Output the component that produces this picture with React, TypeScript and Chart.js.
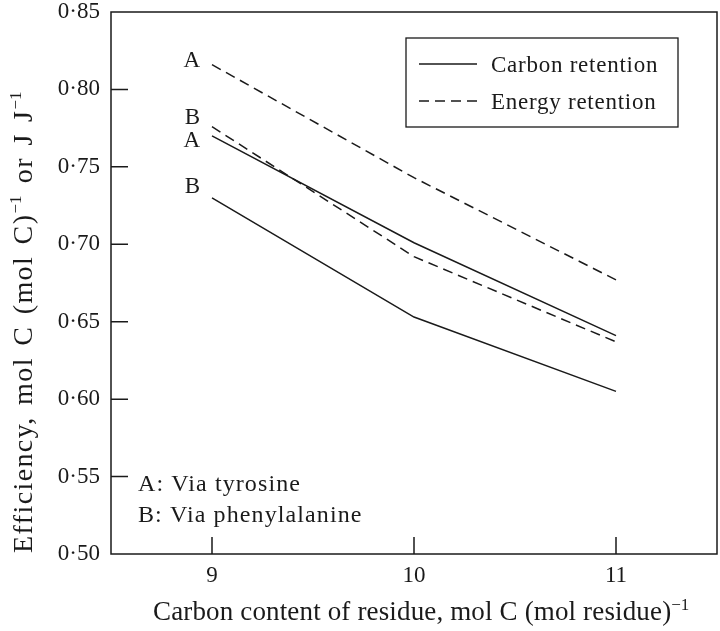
import React, { useEffect, useRef } from 'react';
import { Chart, registerables } from 'chart.js';

Chart.register(...registerables);

// ---- data ----
const xValues = [9, 10, 11];
const energyA = [0.816, 0.743, 0.677];
const energyB = [0.776, 0.692, 0.637];
const carbonA = [0.770, 0.701, 0.641];
const carbonB = [0.730, 0.653, 0.605];
const seriesTags = ['A', 'B', 'A', 'B'];
const xTicks = [9, 10, 11];
const yTicks = [0.5, 0.55, 0.6, 0.65, 0.7, 0.75, 0.8, 0.85];
const legendLabels = ['Carbon retention', 'Energy retention'];
const noteLines = ['A: Via tyrosine', 'B: Via phenylalanine'];
const xTitleParts = ['Carbon content of residue, mol C (mol residue)', '\u22121'];
const yTitleParts = ['Efficiency, mol C (mol C)', '\u22121', ' or J J', '\u22121'];

const FONT = "'Liberation Serif', 'Times New Roman', serif";
const INK = '#1a1a1a';
const FS = 23;
const DASH = [10, 6];

function setSpacing(ctx: CanvasRenderingContext2D, px: number, word = 0) {
  (ctx as any).letterSpacing = `${px}px`;
  (ctx as any).wordSpacing = `${word}px`;
}

function drawRich(
  ctx: CanvasRenderingContext2D,
  parts: string[],
  x: number,
  y: number,
  size: number,
  spacing: number,
  word = 0
) {
  let cx = x;
  parts.forEach((p, i) => {
    const sup = i % 2 === 1;
    const s = sup ? Math.round(size * 0.62) : size;
    ctx.font = `${s}px ${FONT}`;
    setSpacing(ctx, sup ? 0 : spacing, sup ? 0 : word);
    ctx.fillText(p, cx, sup ? y - size * 0.38 : y);
    cx += ctx.measureText(p).width + (sup ? 1 : 0);
  });
  setSpacing(ctx, 0, 0);
}

const decorPlugin = {
  id: 'decor',
  afterDraw(chart: any) {
    const ctx: CanvasRenderingContext2D = chart.ctx;
    const { left, right, top, bottom } = chart.chartArea;
    const xs = chart.scales.x;
    const ys = chart.scales.y;
    ctx.save();
    ctx.strokeStyle = INK;
    ctx.fillStyle = INK;
    ctx.lineWidth = 1.5;
    // frame
    ctx.strokeRect(left, top, right - left, bottom - top);
    // inward ticks
    ctx.beginPath();
    xTicks.forEach((v) => {
      const px = xs.getPixelForValue(v);
      ctx.moveTo(px, bottom);
      ctx.lineTo(px, bottom - 17);
    });
    yTicks.slice(1, -1).forEach((v) => {
      const py = ys.getPixelForValue(v);
      ctx.moveTo(left, py);
      ctx.lineTo(left + 17, py);
    });
    ctx.stroke();

    // series tags at line starts
    const tagOffsets = [2, -3, 11, -5];
    ctx.font = `${FS}px ${FONT}`;
    ctx.textAlign = 'right';
    ctx.textBaseline = 'alphabetic';
    chart.data.datasets.forEach((ds: any, i: number) => {
      const px = xs.getPixelForValue(ds.data[0].x);
      const py = ys.getPixelForValue(ds.data[0].y);
      ctx.fillText(seriesTags[i], px - 12, py + tagOffsets[i]);
    });

    // legend box
    const bx = right - 311;
    const by = top + 26;
    const bw = 272;
    const bh = 89;
    ctx.lineWidth = 1.3;
    ctx.strokeRect(bx, by, bw, bh);
    ctx.textAlign = 'left';
    legendLabels.forEach((lab, i) => {
      const ly = by + 26 + i * 37;
      ctx.save();
      ctx.lineWidth = 1.5;
      ctx.setLineDash(i === 0 ? [] : DASH);
      ctx.beginPath();
      ctx.moveTo(bx + 13, ly);
      ctx.lineTo(bx + 71, ly);
      ctx.stroke();
      ctx.restore();
      ctx.font = `${FS}px ${FONT}`;
      setSpacing(ctx, 0.75);
      ctx.fillText(lab, bx + 85, ly + 8);
      setSpacing(ctx, 0);
    });

    // notes
    ctx.font = `24px ${FONT}`;
    setSpacing(ctx, 1.1);
    noteLines.forEach((t, i) => {
      ctx.fillText(t, left + 27, bottom - 63 + i * 31);
    });
    setSpacing(ctx, 0);

    // x title
    drawRich(ctx, xTitleParts, 153, 620, 27, 0.15);

    // y title
    ctx.save();
    ctx.translate(32, 553);
    ctx.rotate(-Math.PI / 2);
    drawRich(ctx, yTitleParts, 0, 0, 28, 1.4, 3);
    ctx.restore();

    ctx.restore();
  },
};

export default function App() {
  const ref = useRef<HTMLCanvasElement>(null);
  useEffect(() => {
    document.body.style.margin = '0';
    const mk = (vals: number[]) => vals.map((y, i) => ({ x: xValues[i], y }));
    const common = { borderColor: INK, borderWidth: 1.5, pointRadius: 0, fill: false, tension: 0 };
    const chart = new Chart(ref.current!, {
      type: 'line',
      data: {
        datasets: [
          { label: 'Energy retention A', data: mk(energyA), borderDash: DASH, ...common },
          { label: 'Energy retention B', data: mk(energyB), borderDash: DASH, ...common },
          { label: 'Carbon retention A', data: mk(carbonA), ...common },
          { label: 'Carbon retention B', data: mk(carbonB), ...common },
        ],
      },
      options: {
        responsive: false,
        animation: false,
        layout: { padding: { top: 12, right: 3, left: 0, bottom: 0 } },
        plugins: { legend: { display: false }, tooltip: { enabled: false }, title: { display: false } },
        scales: {
          x: {
            type: 'linear',
            min: 8.5,
            max: 11.5,
            grid: { display: false, drawTicks: false },
            border: { display: false },
            afterBuildTicks: (axis: any) => {
              axis.ticks = xTicks.map((v) => ({ value: v }));
            },
            afterFit: (axis: any) => {
              axis.height = 77;
              axis.paddingLeft = 0;
              axis.paddingRight = 0;
            },
            ticks: {
              padding: 8,
              maxRotation: 0,
              color: INK,
              font: { family: FONT, size: FS },
              callback: (v: any) => String(v),
            },
          },
          y: {
            type: 'linear',
            min: 0.5,
            max: 0.85,
            grid: { display: false, drawTicks: false },
            border: { display: false },
            afterBuildTicks: (axis: any) => {
              axis.ticks = yTicks.map((v) => ({ value: v }));
            },
            afterFit: (axis: any) => {
              axis.width = 111;
              axis.paddingTop = 0;
              axis.paddingBottom = 0;
            },
            ticks: {
              padding: 11,
              color: INK,
              font: { family: FONT, size: FS },
              callback: (v: any) => Number(v).toFixed(2).replace('.', '\u00b7'),
            },
          },
        },
      },
      plugins: [decorPlugin],
    });
    return () => chart.destroy();
  }, []);
  return <canvas ref={ref} width={720} height={631} style={{ display: 'block' }} />;
}
